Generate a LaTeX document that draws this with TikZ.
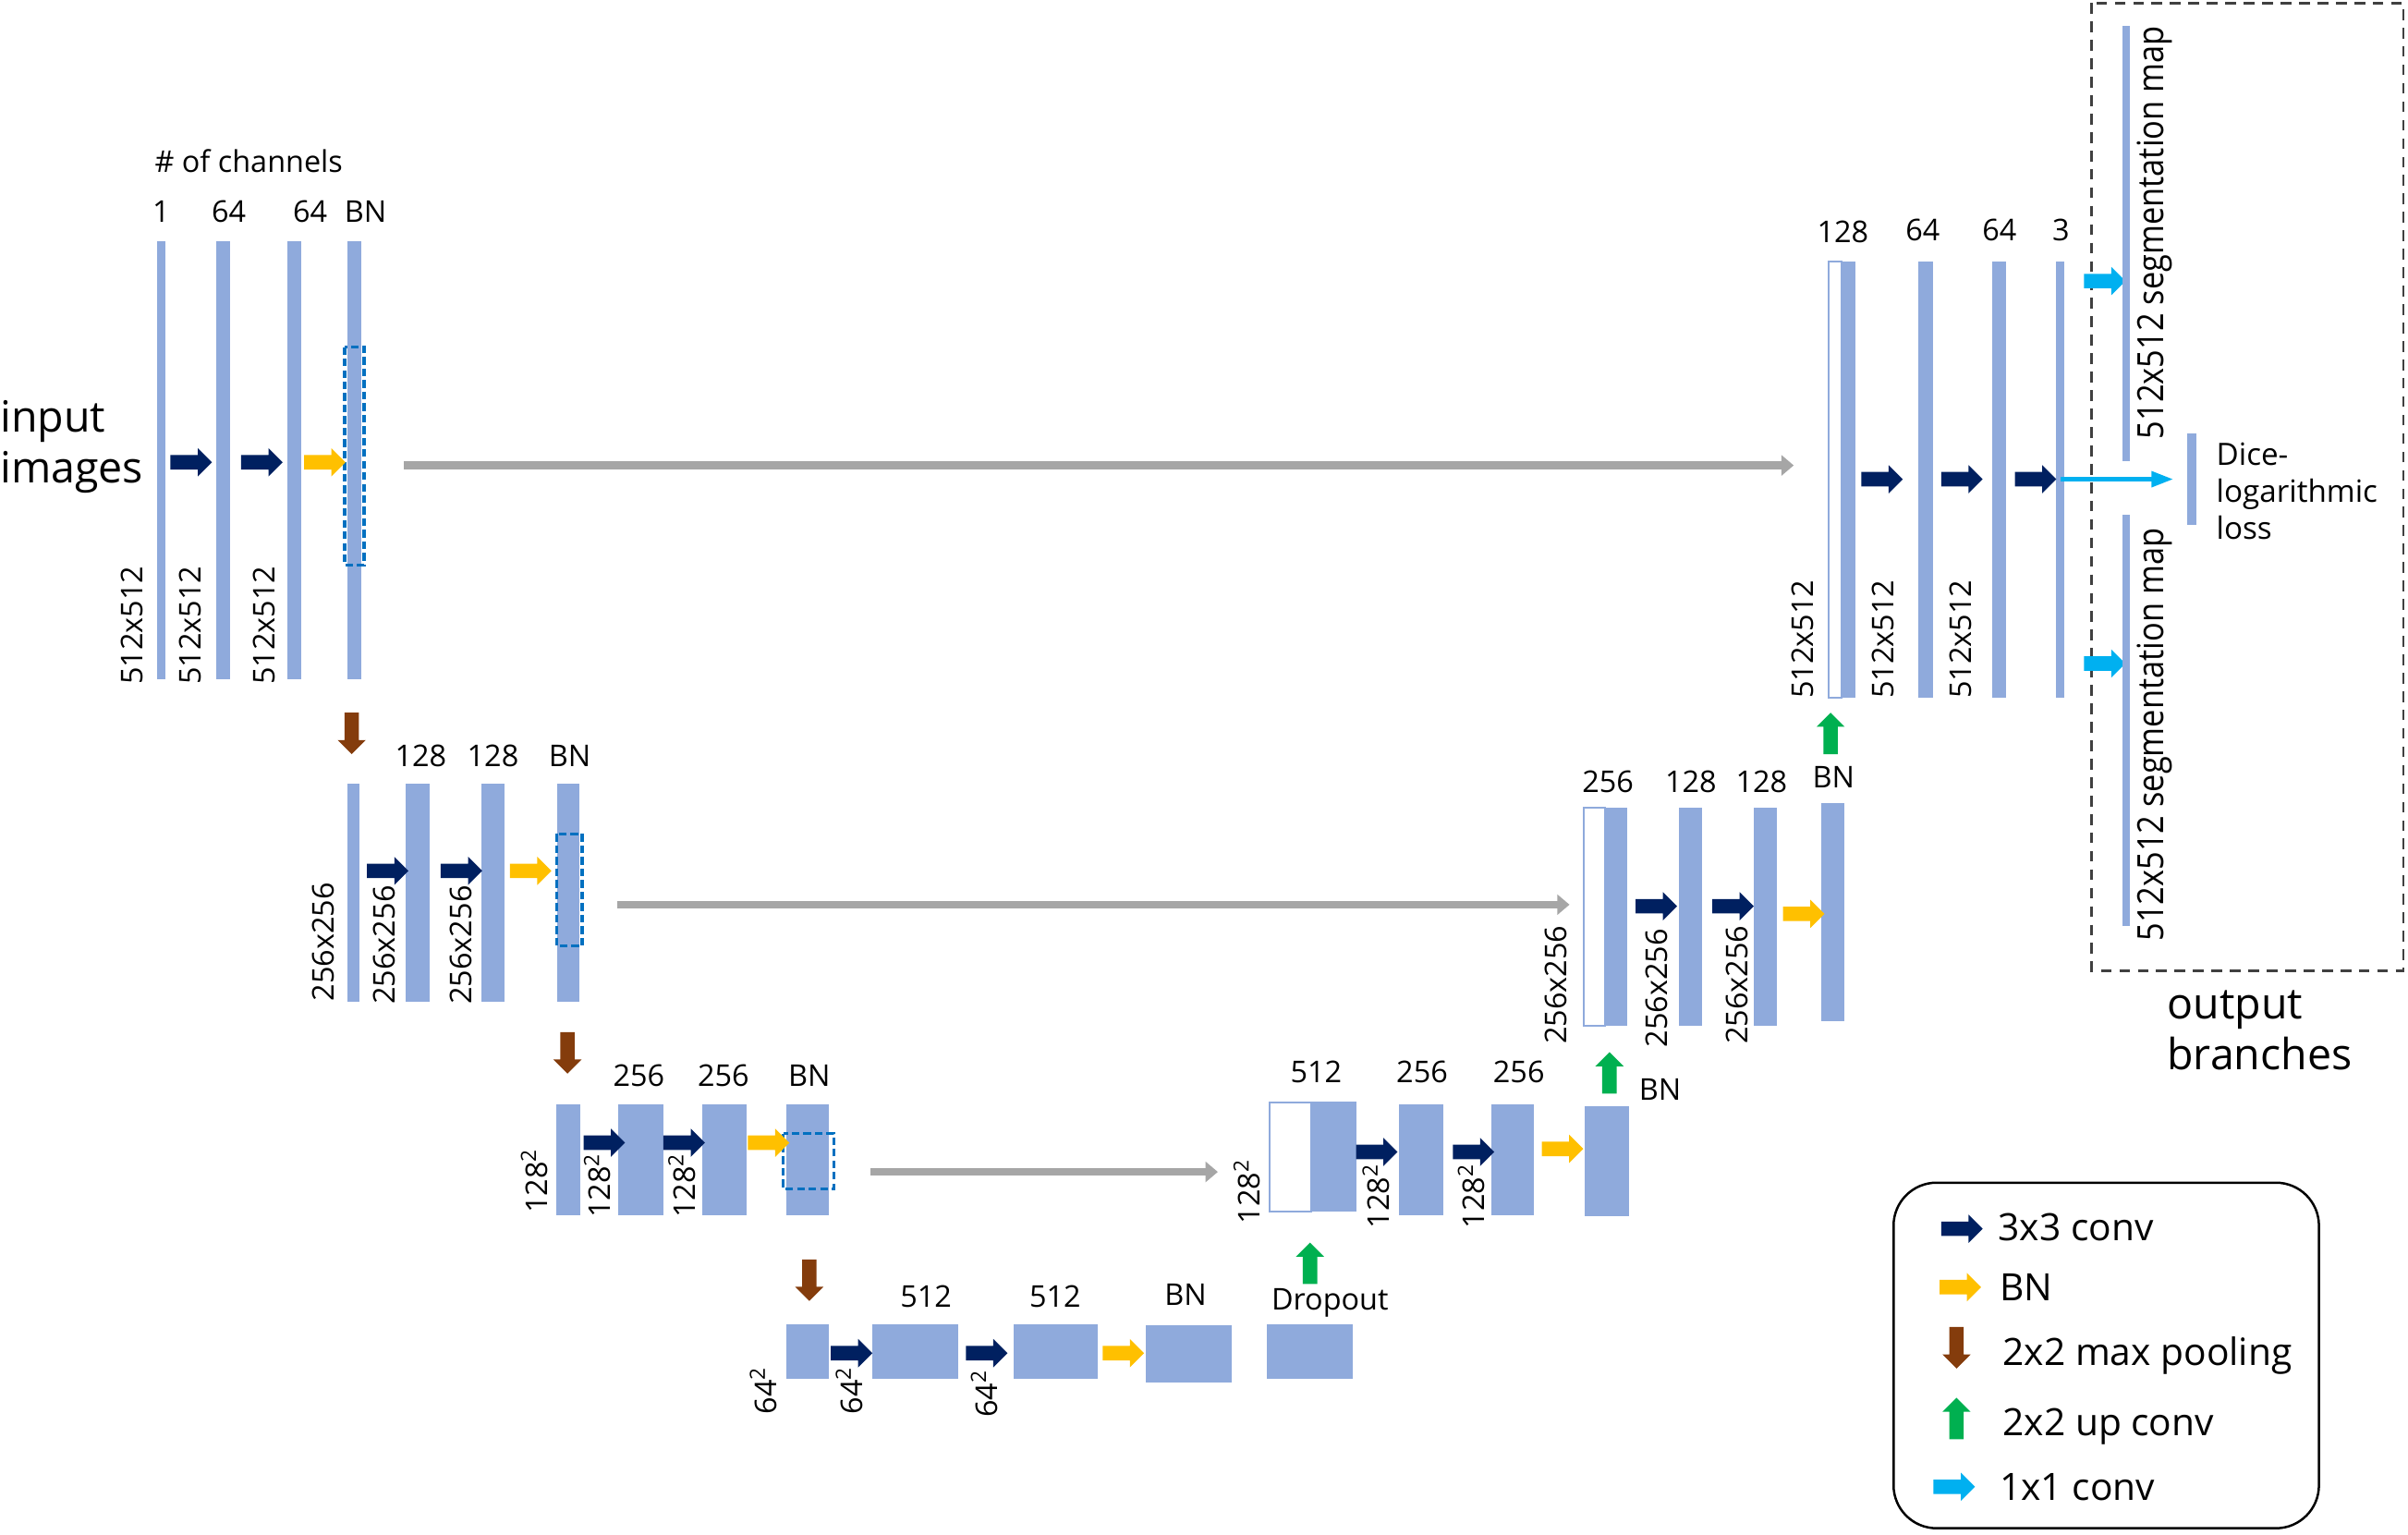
\documentclass[tikz,border=0pt]{standalone}
\usepackage{fontspec}
\setmainfont{Open Sans}
\newfontfamily\narrowfont[FakeStretch=0.88]{Open Sans}
\usetikzlibrary{positioning}
\usetikzlibrary{shapes.arrows}
\usetikzlibrary{arrows.meta}
\usetikzlibrary{calc}
\definecolor{fmblue}{RGB}{143,170,220}
\definecolor{convnavy}{RGB}{0,32,96}
\definecolor{bnyellow}{RGB}{255,192,0}
\definecolor{poolbrown}{RGB}{132,60,12}
\definecolor{upgreen}{RGB}{0,176,80}
\definecolor{outcyan}{RGB}{0,176,240}
\definecolor{skipgray}{RGB}{166,166,166}
\definecolor{dashblue}{RGB}{0,112,192}
\definecolor{boxgray}{RGB}{64,64,64}
\tikzset{
	fmap/.style 2 args={
		rectangle,
		fill=fmblue,
		inner sep=0pt,
		outer sep=0pt,
		anchor=north west,
		minimum width=#1,
		minimum height=#2
	},
	catmap/.style 2 args={fmap={#1}{#2}, fill=white, draw=fmblue, line width=1.2pt},
	bnbox/.style={draw=dashblue, line width=2pt, dash pattern=on 5pt off 2.5pt},
	blockarrow/.style={
		single arrow,
		inner xsep=0pt,
		inner ysep=4.5pt,
		outer sep=0pt,
		text height=0pt,
		text depth=0pt,
		minimum height=27pt,
		single arrow head extend=4.5pt,
		single arrow tip angle=90,
		anchor=tail
	},
	vblockarrow/.style={blockarrow, inner xsep=4.5pt, inner ysep=0pt},
	convarrow/.style={blockarrow, fill=convnavy},
	bnarrow/.style={blockarrow, fill=bnyellow},
	poolarrow/.style={vblockarrow, fill=poolbrown, shape border rotate=270},
	upconvarrow/.style={vblockarrow, fill=upgreen, shape border rotate=90},
	outarrow/.style={blockarrow, fill=outcyan},
	skiplink/.style={draw=skipgray, line width=5pt, -{Triangle[width=13pt,length=8pt]}},
	losslink/.style={draw=outcyan, line width=2.5pt, -{Triangle[width=10pt,length=14pt]}},
	lbl/.style={font=\fontsize{19.5}{23}\selectfont, inner sep=0pt, anchor=base},
	sizelbl/.style={font=\fontsize{19.5}{23}\selectfont, inner sep=0pt, rotate=90, anchor=west},
	bigtxt/.style={font=\fontsize{28}{33}\selectfont, inner sep=0pt, anchor=west, align=left},
	legtxt/.style={font=\fontsize{24.5}{28}\selectfont, inner sep=0pt, anchor=base west}
}

\begin{document}
\begin{tikzpicture}[x=1pt, y=-1pt]
	\useasboundingbox (0,0) rectangle (1568,999);
	
	% encoder, 512x512
	\node[bigtxt] (inp) at (0,291) {input\\images};
	\node[lbl] (chn) at (162,112) {\# of channels};
	\node[fmap={6pt}{285pt}] (e11) at (102,157) {};
	\node[fmap={9pt}{285pt}] (e12) at (141,157) {};
	\node[fmap={9pt}{285pt}] (e13) at (187,157) {};
	\node[fmap={9pt}{285pt}] (e14) at (226,157) {};
	\draw[bnbox] (224.5,226) rectangle (237,368);
	\node[convarrow] (a11) at (111,301) {};
	\node[convarrow] (a12) at (157,301) {};
	\node[bnarrow] (a13) at (198,301) {};
	\node[lbl] (n11) at (105,145) {1};
	\node[lbl] (n12) at (149,145) {64};
	\node[lbl] (n13) at (202,145) {64};
	\node[lbl] (n14) at (238,145) {BN};
	\node[sizelbl] (s11) at (86,446) {512x512};
	\node[sizelbl] (s12) at (124,446) {512x512};
	\node[sizelbl] (s13) at (172,446) {512x512};
	\node[poolarrow] (p1) at (229,464) {};
	
	% encoder, 256x256
	\node[fmap={8pt}{142pt}] (e21) at (226,510) {};
	\node[fmap={16pt}{142pt}] (e22) at (264,510) {};
	\node[fmap={15pt}{142pt}] (e23) at (313.5,510) {};
	\node[fmap={14pt}{142pt}] (e24) at (363,510) {};
	\draw[bnbox] (362.5,543) rectangle (379,616);
	\node[convarrow] (a21) at (239,567) {};
	\node[convarrow] (a22) at (287,567) {};
	\node[bnarrow] (a23) at (332,567) {};
	\node[lbl] (n22) at (274,499) {128};
	\node[lbl] (n23) at (321,499) {128};
	\node[lbl] (n24) at (371,499) {BN};
	\node[sizelbl] (s21) at (210.5,652) {256x256};
	\node[sizelbl] (s22) at (250,654) {256x256};
	\node[sizelbl] (s23) at (300,654) {256x256};
	\node[poolarrow] (p2) at (369.5,672) {};
	
	% encoder, 128x128
	\node[fmap={16pt}{72pt}] (e31) at (362,719) {};
	\node[fmap={29.5pt}{72pt}] (e32) at (402.5,719) {};
	\node[fmap={29pt}{72pt}] (e33) at (457,719) {};
	\node[fmap={28pt}{72pt}] (e34) at (512,719) {};
	\draw[bnbox] (510,738) rectangle (543,774);
	\node[convarrow] (a31) at (380,744) {};
	\node[convarrow] (a32) at (432,744) {};
	\node[bnarrow] (a33) at (487,744) {};
	\node[lbl] (n32) at (416,707) {256};
	\node[lbl] (n33) at (471,707) {256};
	\node[lbl] (n34) at (527,707) {BN};
	\node[sizelbl] (s31) at (348,790) {128\textsuperscript{2}};
	\node[sizelbl] (s32) at (389,793) {128\textsuperscript{2}};
	\node[sizelbl] (s33) at (444,793) {128\textsuperscript{2}};
	\node[poolarrow] (p3) at (527,820) {};
	
	% bottom, 64x64
	\node[fmap={28pt}{36pt}] (e41) at (512,862) {};
	\node[fmap={56pt}{36pt}] (e42) at (568,862) {};
	\node[fmap={55pt}{36pt}] (e43) at (660,862) {};
	\node[fmap={56pt}{37pt}] (e44) at (746,863) {};
	\node[fmap={56pt}{36pt}] (drop) at (825,862) {};
	\node[convarrow] (a41) at (541,881) {};
	\node[convarrow] (a42) at (629,881) {};
	\node[bnarrow] (a43) at (718,881) {};
	\node[lbl] (n42) at (603,851) {512};
	\node[lbl] (n43) at (687,851) {512};
	\node[lbl] (n44) at (772,850) {BN};
	\node[lbl] (n45) at (866,853) {Dropout};
	\node[sizelbl] (s41) at (497,921) {64\textsuperscript{2}};
	\node[sizelbl] (s42) at (553,921) {64\textsuperscript{2}};
	\node[sizelbl] (s43) at (641,923) {64\textsuperscript{2}};
	\node[upconvarrow] (u1) at (853,836) {};
	
	% decoder, 128x128
	\node[catmap={27pt}{71pt}] (d31) at (827,718) {};
	\node[fmap={30pt}{72pt}] (d32) at (853,717) {};
	\node[fmap={29pt}{72pt}] (d33) at (911,719) {};
	\node[fmap={28pt}{72pt}] (d34) at (971,719) {};
	\node[fmap={29pt}{72pt}] (d35) at (1032,720) {};
	\node[convarrow] (b31) at (883,750) {};
	\node[convarrow] (b32) at (946,750) {};
	\node[bnarrow] (b33) at (1004,748) {};
	\node[lbl] (m31) at (857,705) {512};
	\node[lbl] (m33) at (926,705) {256};
	\node[lbl] (m34) at (989,705) {256};
	\node[lbl] (m35) at (1081,716) {BN};
	\node[sizelbl] (t31) at (812,797) {128\textsuperscript{2}};
	\node[sizelbl] (t32) at (896,800) {128\textsuperscript{2}};
	\node[sizelbl] (t33) at (958,800) {128\textsuperscript{2}};
	\node[upconvarrow] (u2) at (1048,712) {};
	
	% decoder, 256x256
	\node[catmap={14pt}{142pt}] (d21) at (1031,526) {};
	\node[fmap={15pt}{142pt}] (d22) at (1044.5,526) {};
	\node[fmap={15pt}{142pt}] (d23) at (1093,526) {};
	\node[fmap={15pt}{142pt}] (d24) at (1142,526) {};
	\node[fmap={15pt}{142pt}] (d25) at (1186,523) {};
	\node[convarrow] (b21) at (1065,590) {};
	\node[convarrow] (b22) at (1115,590) {};
	\node[bnarrow] (b23) at (1161,595) {};
	\node[lbl] (m21) at (1047,516) {256};
	\node[lbl] (m23) at (1101,516) {128};
	\node[lbl] (m24) at (1147,516) {128};
	\node[lbl] (m25) at (1194,513) {BN};
	\node[sizelbl] (t21) at (1013,680) {256x256};
	\node[sizelbl] (t22) at (1079,682) {256x256};
	\node[sizelbl] (t23) at (1131,680) {256x256};
	\node[upconvarrow] (u3) at (1192,491) {};
	
	% decoder, 512x512
	\node[catmap={8pt}{284pt}] (d11) at (1191,170) {};
	\node[fmap={9pt}{284pt}] (d12) at (1199,170) {};
	\node[fmap={10pt}{284pt}] (d13) at (1249,170) {};
	\node[fmap={9pt}{284pt}] (d14) at (1297,170) {};
	\node[fmap={5pt}{284pt}] (d15) at (1339,170) {};
	\node[convarrow] (b11) at (1212,312) {};
	\node[convarrow] (b12) at (1264,312) {};
	\node[convarrow] (b13) at (1312,312) {};
	\node[lbl] (m11) at (1200,158) {128};
	\node[lbl] (m12) at (1252,157) {64};
	\node[lbl] (m13) at (1302,157) {64};
	\node[lbl] (m14) at (1342,157) {3};
	\node[sizelbl] (t11) at (1174,455) {512x512};
	\node[sizelbl] (t12) at (1226,455) {512x512};
	\node[sizelbl] (t13) at (1277,455) {512x512};
	
	% skip connections
	\draw[skiplink] ($(e14.east |- 0,303)+(28,0)$) -- ($(d11.west |- 0,303)+(-23,0)$);
	\draw[skiplink] ($(e24.east |- 0,589)+(25,0)$) -- ($(d21.west |- 0,589)+(-9,0)$);
	\draw[skiplink] ($(e34.east |- 0,763)+(27,0)$) -- ($(d31.west |- 0,763)+(-34,0)$);
	
	% output branches
	\draw[boxgray, line width=1.5pt, dash pattern=on 7pt off 5pt] (1362,2) rectangle (1565,632);
	\node[outarrow] (o1) at (1357,183) {};
	\node[outarrow] (o2) at (1357,432) {};
	\node[fmap={5pt}{283pt}] (seg1) at (1382,17) {};
	\node[fmap={5pt}{268pt}] (seg2) at (1382,335) {};
	\node[fmap={6pt}{60pt}] (loss) at (1424,282) {};
	\draw[losslink] ($(d15.east |- loss.west)+(-2,0)$) -- ($(loss.west)+(-9,0)$);
	\node[sizelbl, font=\narrowfont\fontsize{23.5}{27}\selectfont] (g1) at (1403,286) {512x512 segmentation map};
	\node[sizelbl, font=\narrowfont\fontsize{23.5}{27}\selectfont] (g2) at (1403,613) {512x512 segmentation map};
	\node[bigtxt, font=\fontsize{20}{24}\selectfont] (dice) at (1443,320) {Dice-\\logarithmic\\loss};
	\node[bigtxt] (outb) at (1411,671) {output\\branches};
	
	% legend
	\draw[line width=1.5pt, rounded corners=28pt] (1233,770) rectangle (1510,995);
	\node[convarrow] (l1) at (1264,800) {};
	\node[bnarrow] (l2) at (1263,838) {};
	\node[poolarrow] (l3) at (1274,864) {};
	\node[upconvarrow] (l4) at (1274,937) {};
	\node[outarrow] (l5) at (1259,968) {};
	\node[legtxt] (k1) at (1301,808) {3x3 conv};
	\node[legtxt] (k2) at (1302,847) {BN};
	\node[legtxt] (k3) at (1304,889) {2x2 max pooling};
	\node[legtxt] (k4) at (1304,935) {2x2 up conv};
	\node[legtxt] (k5) at (1302,977) {1x1 conv};
\end{tikzpicture}
\end{document}
